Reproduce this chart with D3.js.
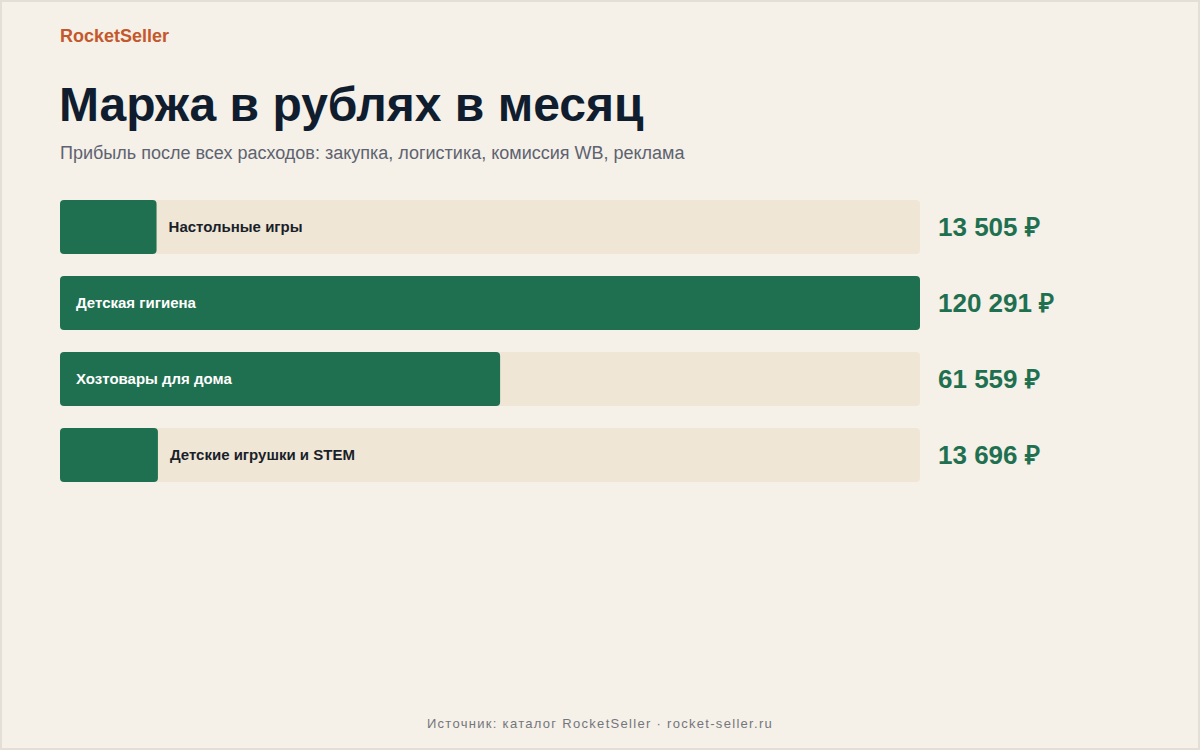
<!DOCTYPE html>
<html>
<head>
<meta charset="utf-8">
<script src="https://cdn.jsdelivr.net/npm/d3@7"></script>
<style>
  html, body { margin: 0; padding: 0; background: #f5f0e8; }
  svg { display: block; font-family: "Liberation Sans", Arial, sans-serif; }
</style>
</head>
<body>
<svg class="board" width="1200" height="750"></svg>
<script>
// Chart data
var categories = ['Настольные игры', 'Детская гигиена', 'Хозтовары для дома', 'Детские игрушки и STEM'];
var margins = [13505, 120291, 61559, 13696];
var valueLabels = ['13 505 ₽', '120 291 ₽', '61 559 ₽', '13 696 ₽'];

var svg = d3.select('.board');
var W = 1200, H = 750;

// page background + thin frame
svg.append('rect')
  .attr('x', 1).attr('y', 1)
  .attr('width', W - 2).attr('height', H - 2)
  .attr('fill', '#f5f0e8')
  .attr('stroke', '#e4dfd6')
  .attr('stroke-width', 2);

svg.append('text')
  .attr('x', 60).attr('y', 42)
  .attr('font-size', 18).attr('font-weight', 700)
  .attr('fill', '#c4582c')
  .text('RocketSeller');

svg.append('text')
  .attr('x', 59).attr('y', 121)
  .attr('font-size', 48).attr('font-weight', 700)
  .attr('fill', '#0f1d2e')
  .text('Маржа в рублях в месяц');

svg.append('text')
  .attr('x', 60).attr('y', 159)
  .attr('font-size', 18)
  .attr('fill', '#5d6370')
  .text('Прибыль после всех расходов: закупка, логистика, комиссия WB, реклама');

var x = d3.scaleLinear()
  .domain([0, d3.max(margins)])
  .range([0, 860]);

// 54px bars, 22px gaps
var y = d3.scaleBand()
  .domain(categories)
  .range([200, 200 + 76 * categories.length - 22])
  .paddingInner(22 / 76)
  .paddingOuter(0);

var rows = svg.append('g')
  .selectAll('g')
  .data(categories)
  .join('g')
  .attr('transform', d => `translate(60,${y(d)})`);

rows.append('rect')
  .attr('width', x.range()[1])
  .attr('height', y.bandwidth())
  .attr('rx', 4)
  .attr('fill', '#efe6d6');

rows.append('rect')
  .attr('width', (d, i) => x(margins[i]))
  .attr('height', y.bandwidth())
  .attr('rx', 4)
  .attr('fill', '#1f7050');

// label goes inside the bar when it fits, otherwise just after it
rows.append('text')
  .attr('x', (d, i) => x(margins[i]) > 250 ? 16 : x(margins[i]) + 12)
  .attr('y', y.bandwidth() / 2)
  .attr('dy', '0.35em')
  .attr('font-size', 15).attr('font-weight', 700)
  .attr('fill', (d, i) => x(margins[i]) > 250 ? '#ffffff' : '#1a1f2a')
  .text(d => d);

rows.append('text')
  .attr('x', 878)
  .attr('y', y.bandwidth() / 2)
  .attr('dy', '0.35em')
  .attr('font-size', 26).attr('font-weight', 700)
  .attr('fill', '#1f7050')
  .text((d, i) => valueLabels[i]);

svg.append('text')
  .attr('x', W / 2).attr('y', 728)
  .attr('text-anchor', 'middle')
  .attr('font-size', 13)
  .attr('letter-spacing', 1.3)
  .attr('fill', '#74767c')
  .text('Источник: каталог RocketSeller · rocket-seller.ru');
</script>
</body>
</html>
